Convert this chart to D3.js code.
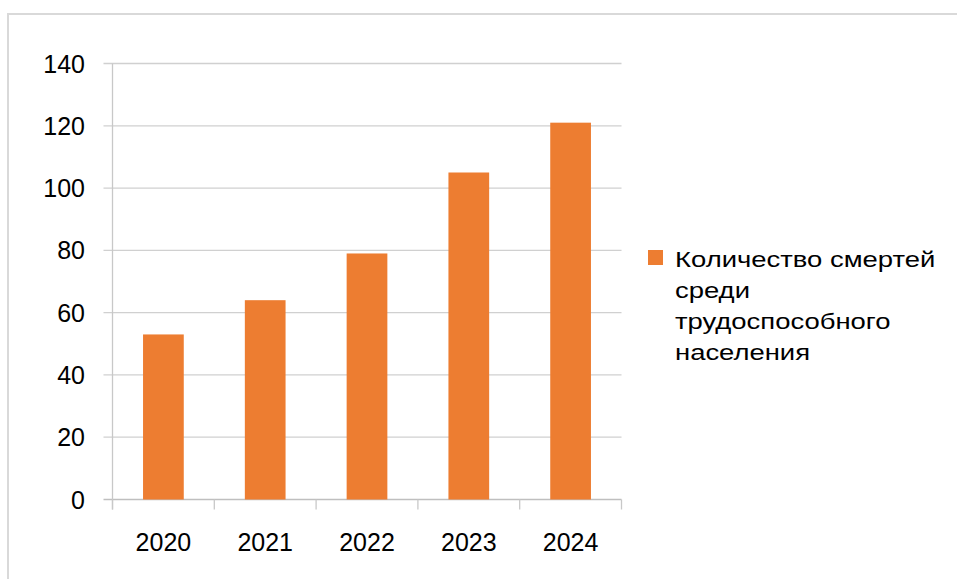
<!DOCTYPE html>
<html>
<head>
<meta charset="utf-8">
<script src="https://cdn.jsdelivr.net/npm/d3@7"></script>
<style>
  body { margin: 0; background: #fff; }
  text { font-family: "Liberation Sans", Arial, sans-serif; fill: #000; }
</style>
</head>
<body>
<div id="chart"></div>
<script>
// data
const years = ["2020", "2021", "2022", "2023", "2024"];
const deaths = [53, 64, 79, 105, 121];
const yTicks = [0, 20, 40, 60, 80, 100, 120, 140];
const seriesName = ["Количество смертей", "среди", "трудоспособного", "населения"];

const W = 957, H = 579;
const plot = { left: 112.5, right: 621.5, top: 63.5, bottom: 499.5 };

const svg = d3.select("#chart").append("svg")
  .attr("width", W)
  .attr("height", H);

// outer frame of the chart object
svg.append("rect")
  .attr("x", 8).attr("y", 14)
  .attr("width", 1000).attr("height", 1000)
  .attr("fill", "none")
  .attr("stroke", "#d9d9d9")
  .attr("stroke-width", 2);

const x = d3.scaleBand()
  .domain(years)
  .range([plot.left, plot.right]);

const y = d3.scaleLinear()
  .domain([0, 140])
  .range([plot.bottom, plot.top]);

// horizontal gridlines
svg.append("g")
  .selectAll("line")
  .data(yTicks)
  .enter()
  .append("line")
    .attr("x1", plot.left - 9)
    .attr("x2", plot.right)
    .attr("y1", d => y(d))
    .attr("y2", d => y(d))
    .attr("stroke", d => d == 0 ? "#bfbfbf" : "#d0d0d0")
    .attr("stroke-width", 1.3);

// y axis line
svg.append("line")
  .attr("x1", plot.left).attr("x2", plot.left)
  .attr("y1", plot.top).attr("y2", plot.bottom + 10)
  .attr("stroke", "#c8c8c8")
  .attr("stroke-width", 1.3);

// y labels
svg.append("g")
  .selectAll("text")
  .data(yTicks)
  .enter()
  .append("text")
    .attr("x", 85)
    .attr("y", d => y(d) + 9)
    .attr("text-anchor", "end")
    .attr("font-size", 25)
    .text(d => d);

// category ticks under the axis
const catEdges = years.map(d => x(d)).concat([x(years[years.length - 1]) + x.bandwidth()]);
svg.append("g")
  .selectAll("line")
  .data(catEdges)
  .enter()
  .append("line")
    .attr("x1", d => d).attr("x2", d => d)
    .attr("y1", plot.bottom).attr("y2", plot.bottom + 10)
    .attr("stroke", "#c8c8c8")
    .attr("stroke-width", 1.3);

// x labels
svg.append("g")
  .selectAll("text")
  .data(years)
  .enter()
  .append("text")
    .attr("x", d => x(d) + x.bandwidth() / 2)
    .attr("y", 551)
    .attr("text-anchor", "middle")
    .attr("font-size", 25)
    .text(d => d);

// bars, gap width 150%
const barW = x.bandwidth() / 2.5;
svg.append("g")
  .selectAll("rect")
  .data(deaths)
  .enter()
  .append("rect")
    .attr("x", (d, i) => x(years[i]) + (x.bandwidth() - barW) / 2)
    .attr("y", d => y(d))
    .attr("width", barW)
    .attr("height", d => plot.bottom - y(d))
    .attr("fill", "#ED7D31");

// legend
svg.append("rect")
  .attr("x", 648).attr("y", 250)
  .attr("width", 15).attr("height", 15)
  .attr("fill", "#ED7D31");

// the legend type is set wider than the axes text
svg.append("g")
  .selectAll("text")
  .data(seriesName)
  .enter()
  .append("text")
    .attr("transform", (d, i) => `translate(675,${267 + i * 31}) scale(1.22,1)`)
    .attr("font-size", 22.5)
    .text(d => d);
</script>
</body>
</html>
